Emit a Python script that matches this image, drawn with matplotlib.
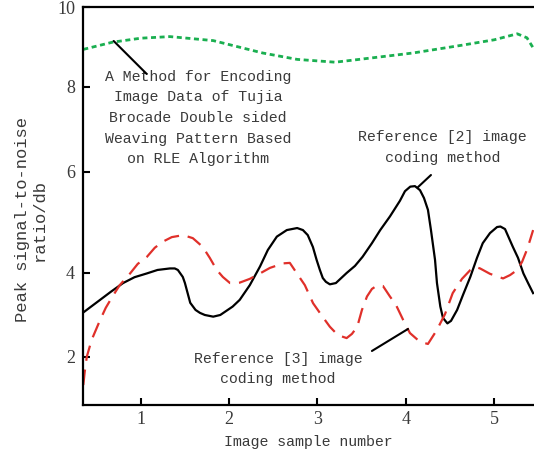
import numpy as np
import matplotlib
matplotlib.use("Agg")
import matplotlib.pyplot as plt

# ---------------- data ----------------
green_x = [0.35, 0.68, 1.0, 1.33, 1.82, 2.38, 2.77, 3.2, 3.51, 4.08, 4.65, 5.0, 5.26, 5.37, 5.44]
green_y = [8.94, 9.12, 9.22, 9.26, 9.16, 8.85, 8.69, 8.62, 8.70, 8.85, 9.05, 9.18, 9.33, 9.23, 8.98]

black_x = [0.35, 0.54, 0.66, 0.80, 0.93, 1.07, 1.19, 1.33, 1.385, 1.42, 1.476, 1.50, 1.521,
           1.56, 1.62, 1.67, 1.725, 1.82, 1.90, 2.04, 2.12, 2.234, 2.35, 2.438, 2.54, 2.653,
           2.77, 2.835, 2.89, 2.948, 2.99, 3.027, 3.06, 3.095, 3.14, 3.208, 3.33, 3.424, 3.51,
           3.616, 3.71, 3.82, 3.933, 3.99, 4.05, 4.103, 4.16, 4.205, 4.25, 4.284, 4.33, 4.352,
           4.39, 4.42, 4.47, 4.511, 4.58, 4.647, 4.73, 4.805, 4.87, 4.952, 5.032, 5.07, 5.122,
           5.21, 5.269, 5.33, 5.383, 5.44]
black_y = [3.06, 3.36, 3.55, 3.76, 3.90, 3.99, 4.06, 4.09, 4.09, 4.06, 3.905, 3.76, 3.595,
           3.29, 3.12, 3.05, 3.00, 2.96, 3.00, 3.20, 3.36, 3.71, 4.13, 4.455, 4.72, 4.85,
           4.89, 4.85, 4.75, 4.515, 4.26, 4.06, 3.88, 3.79, 3.73, 3.76, 4.00, 4.14, 4.32,
           4.59, 4.85, 5.12, 5.43, 5.62, 5.71, 5.72, 5.64, 5.485, 5.25, 4.85, 4.26, 3.76,
           3.20, 2.93, 2.80, 2.86, 3.12, 3.48, 3.91, 4.30, 4.59, 4.79, 4.91, 4.92, 4.87,
           4.52, 4.30, 3.99, 3.76, 3.52]

red_x = [0.35, 0.366, 0.39, 0.445, 0.54, 0.604, 0.68, 0.762, 0.88, 0.966, 1.07, 1.159, 1.25,
         1.351, 1.48, 1.589, 1.70, 1.781, 1.86, 1.929, 2.01, 2.076, 2.12, 2.234, 2.35, 2.461,
         2.61, 2.687, 2.767, 2.857, 2.95, 3.05, 3.14, 3.231, 3.33, 3.39, 3.45, 3.503, 3.56,
         3.616, 3.673, 3.741, 3.82, 3.888, 3.97, 4.046, 4.16, 4.25, 4.35, 4.443, 4.53, 4.635,
         4.73, 4.783, 4.84, 4.952, 5.10, 5.179, 5.26, 5.315, 5.37, 5.405, 5.44]
red_y = [1.34, 1.65, 2.01, 2.41, 2.88, 3.17, 3.44, 3.71, 3.99, 4.18, 4.32, 4.50, 4.62,
         4.71, 4.75, 4.69, 4.52, 4.30, 4.06, 3.905, 3.76, 3.76, 3.77, 3.86, 3.99, 4.10,
         4.19, 4.20, 3.99, 3.71, 3.28, 2.98, 2.72, 2.52, 2.45, 2.55, 2.72, 3.12, 3.44,
         3.62, 3.70, 3.69, 3.44, 3.24, 2.88, 2.57, 2.36, 2.31, 2.64, 3.02, 3.52, 3.86,
         4.06, 4.12, 4.09, 3.98, 3.87, 3.95, 4.06, 4.22, 4.46, 4.65, 4.85]

x_ticks = [1, 2, 3, 4, 5]
y_ticks = [2, 4, 6, 8, 10]

label_green = ("A Method for Encoding\nImage Data of Tujia\nBrocade Double sided\n"
               "Weaving Pattern Based\non RLE Algorithm")
label_black = "Reference [2] image\ncoding method"
label_red = "Reference [3] image\ncoding method"

# non-uniform vertical axis of the original figure (value -> relative position)
scale_v = [-10, 0, 2, 4, 6, 8, 10, 20]
scale_u = [-462, -37, 48, 132, 233, 318, 398, 798]

def fwd(v):
    return np.interp(v, scale_v, scale_u)

def inv(u):
    return np.interp(u, scale_u, scale_v)

MONO = "Liberation Mono"
SERIF = "Liberation Serif"
txt_color = "#3a3a3a"

fig = plt.figure(figsize=(5.34, 4.57), dpi=100)
ax = fig.add_axes([83.3 / 534, 1 - 405 / 457, 1 - 83.3 / 534, (405 - 7) / 457])
ax.set_yscale("function", functions=(fwd, inv))

ax.plot(green_x, green_y, color="#1aaf50", lw=2.0, linestyle=(0, (1.8, 1.3)),
        solid_joinstyle="round")
ax.plot(black_x, black_y, color="black", lw=1.6, solid_joinstyle="round")
ax.plot(red_x, red_y, color="#e0302a", lw=1.6, linestyle=(0, (7, 4)),
        dash_joinstyle="round")

ax.set_xlim(0.35, 5.45)
ax.set_ylim(0.87, 10)
ax.set_xticks(x_ticks)
ax.set_yticks(y_ticks)
ax.set_xticklabels([str(t) for t in x_ticks], fontfamily=SERIF, fontsize=13, color=txt_color)
ax.set_yticklabels([str(t) for t in y_ticks], fontfamily=SERIF, fontsize=13, color=txt_color)
ax.yaxis.set_minor_locator(matplotlib.ticker.NullLocator())
ax.tick_params(direction="in", length=5, width=1.5, color="black")
ax.tick_params(axis="y", pad=6)
ax.tick_params(axis="x", pad=4)

for s in ["left", "bottom", "top"]:
    ax.spines[s].set_linewidth(1.6)
ax.spines["right"].set_visible(False)

ax.set_xlabel("Image sample number", fontfamily=MONO, fontsize=10.7, color=txt_color)
ax.xaxis.set_label_coords(0.5, -0.075)
ax.set_ylabel("Peak signal-to-noise\nratio/db", fontfamily=MONO, fontsize=12.3,
              color=txt_color, linespacing=1.15)
ax.yaxis.set_label_coords(-0.08, 0.465)

ax.text(0.2545, 0.721, label_green, transform=ax.transAxes, ha="center", va="center",
        fontfamily=MONO, fontsize=10.7, color=txt_color, linespacing=1.6)
ax.text(0.797, 0.647, label_black, transform=ax.transAxes, ha="center", va="center",
        fontfamily=MONO, fontsize=10.7, color=txt_color, linespacing=1.6)
ax.text(0.432, 0.0905, label_red, transform=ax.transAxes, ha="center", va="center",
        fontfamily=MONO, fontsize=10.7, color=txt_color, linespacing=1.6)

lp = dict(arrowstyle="-", color="black", lw=1.5, shrinkA=0, shrinkB=0)
ax.annotate("", xy=(0.694, 9.15), xytext=(1.068, 8.325), arrowprops=lp)
ax.annotate("", xy=(4.137, 5.70), xytext=(4.284, 5.94), arrowprops=lp)
ax.annotate("", xy=(4.024, 2.667), xytext=(3.616, 2.143), arrowprops=lp)

fig.savefig("out.png", dpi=100)
